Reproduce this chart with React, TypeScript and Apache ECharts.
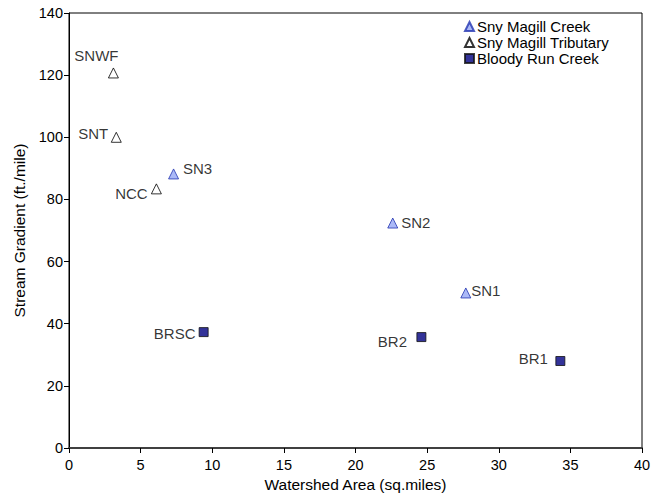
import React, { useEffect, useRef } from "react";
import * as echarts from "echarts";

const creekNames = ["SN1", "SN2", "SN3"];
const creekArea = [27.7, 22.6, 7.3];
const creekGradient = [49.9, 72.4, 88.2];

const tribNames = ["SNWF", "SNT", "NCC"];
const tribArea = [3.1, 3.3, 6.1];
const tribGradient = [120.7, 100.0, 83.4];

const bloodyNames = ["BRSC", "BR2", "BR1"];
const bloodyArea = [9.4, 24.6, 34.3];
const bloodyGradient = [37.3, 35.7, 28.0];

const xTicks = [0, 5, 10, 15, 20, 25, 30, 35, 40];
const yTicks = [0, 20, 40, 60, 80, 100, 120, 140];

const seriesNames = ["Sny Magill Creek", "Sny Magill Tributary", "Bloody Run Creek"];

// label offsets (pixels) relative to the marker centre
const labelOffsets: Record<string, [number, number]> = {
  SN1: [20, -2],
  SN2: [23, -1],
  SN3: [24, -5],
  SNWF: [-17, -17],
  SNT: [-23, -4],
  NCC: [-25, 5],
  BRSC: [-29, 1],
  BR2: [-29, 4],
  BR1: [-27, -3],
};

const FONT = "'Liberation Sans', Arial, sans-serif";

function build(names: string[], xs: number[], ys: number[]) {
  return names.map((n, i) => ({
    name: n,
    value: [xs[i], ys[i]],
    label: { offset: labelOffsets[n] },
  }));
}

export default function App() {
  const ref = useRef<HTMLDivElement>(null);
  useEffect(() => {
    if (!ref.current) return;
    const chart = echarts.init(ref.current, undefined, { renderer: "svg" });
    const labelBase = {
      show: true,
      position: "inside" as const,
      formatter: "{b}",
      color: "#000",
      fontSize: 15,
      fontFamily: FONT,
    };
    chart.setOption({
      animation: false,
      backgroundColor: "#fff",
      textStyle: { fontFamily: FONT },
      grid: {
        left: 69,
        right: 19,
        top: 13,
        bottom: 55,
        show: true,
        borderColor: "#000",
        borderWidth: 1,
        backgroundColor: "transparent",
      },
      legend: {
        orient: "vertical",
        left: 459,
        top: 14,
        itemWidth: 9,
        itemHeight: 9,
        itemGap: 1,
        textStyle: {
          fontSize: 15,
          lineHeight: 15,
          color: "#000",
          fontFamily: FONT,
          padding: [0, 0, 0, -2],
        },
        data: [
          { name: seriesNames[0], icon: "triangle" },
          { name: seriesNames[1], icon: "triangle" },
          { name: seriesNames[2], icon: "rect" },
        ],
      },
      xAxis: {
        type: "value",
        min: xTicks[0],
        max: xTicks[xTicks.length - 1],
        interval: 5,
        name: "Watershed Area (sq.miles)",
        nameLocation: "middle",
        nameGap: 28,
        nameTextStyle: { fontSize: 15.5, color: "#000", fontFamily: FONT },
        axisLine: { lineStyle: { color: "#404040", width: 2 } },
        axisTick: { show: true, inside: false, length: 5, lineStyle: { color: "#000" } },
        axisLabel: { fontSize: 14.5, color: "#000", margin: 9, fontFamily: FONT },
        splitLine: { show: false },
      },
      yAxis: {
        type: "value",
        min: yTicks[0],
        max: yTicks[yTicks.length - 1],
        interval: 20,
        name: "Stream Gradient (ft./mile)",
        nameLocation: "middle",
        nameGap: 42,
        nameTextStyle: { fontSize: 15.5, color: "#000", fontFamily: FONT },
        axisLine: { lineStyle: { color: "#000", width: 1 } },
        axisTick: { show: true, inside: false, length: 5, lineStyle: { color: "#000" } },
        axisLabel: { fontSize: 14.5, color: "#000", margin: 6, fontFamily: FONT },
        splitLine: { show: false },
      },
      series: [
        {
          name: seriesNames[0],
          type: "scatter",
          symbol: "triangle",
          symbolSize: 10,
          itemStyle: { color: "#96A8F5", borderColor: "#2233B0", borderWidth: 1 },
          label: labelBase,
          data: build(creekNames, creekArea, creekGradient),
        },
        {
          name: seriesNames[1],
          type: "scatter",
          symbol: "triangle",
          symbolSize: 10,
          itemStyle: { color: "#fff", borderColor: "#000", borderWidth: 1 },
          label: labelBase,
          data: build(tribNames, tribArea, tribGradient),
        },
        {
          name: seriesNames[2],
          type: "scatter",
          symbol: "rect",
          symbolSize: 9,
          itemStyle: { color: "#000080", borderColor: "#111", borderWidth: 1 },
          label: labelBase,
          data: build(bloodyNames, bloodyArea, bloodyGradient),
        },
      ],
    });
    return () => chart.dispose();
  }, []);
  return <div ref={ref} style={{ width: 661, height: 503, margin: -8 }} />;
}
